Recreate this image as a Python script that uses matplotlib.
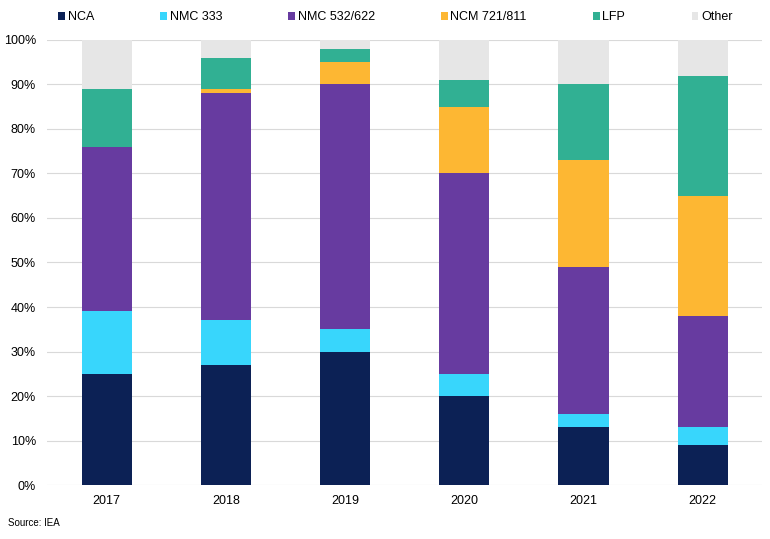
import matplotlib
matplotlib.use("Agg")
import matplotlib.pyplot as plt
import numpy as np
from matplotlib.ticker import PercentFormatter

plt.rcParams.update({
    "font.family": ["Liberation Sans", "DejaVu Sans"],
    "font.size": 9,
})

years = ["2017", "2018", "2019", "2020", "2021", "2022"]
nca = [25, 27, 30, 20, 13, 9]
nmc333 = [14, 10, 5, 5, 3, 4]
nmc532 = [37, 51, 55, 45, 33, 25]
ncm721 = [0, 1, 5, 15, 24, 27]
lfp = [13, 7, 3, 6, 17, 27]
other = [11, 4, 2, 9, 10, 8]

series = [
    ("NCA", nca, "#0c2155"),
    ("NMC 333", nmc333, "#38d6fc"),
    ("NMC 532/622", nmc532, "#673ba0"),
    ("NCM 721/811", ncm721, "#fdb733"),
    ("LFP", lfp, "#31b093"),
    ("Other", other, "#e6e6e6"),
]

fig = plt.figure(figsize=(7.7, 5.39), dpi=100)
ax = fig.add_axes([0.061, 0.100, 0.929, 0.826])

x = np.arange(len(years))
bottom = np.zeros(len(years))
for name, vals, color in series:
    vals = np.array(vals, dtype=float)
    ax.bar(x, vals, 0.42, bottom=bottom, color=color, label=name, zorder=3)
    bottom += vals

ax.set_xlim(-0.5, len(years) - 0.5)
ax.set_ylim(0, 100)
ax.set_yticks(np.arange(0, 101, 10))
ax.yaxis.set_major_formatter(PercentFormatter(decimals=0))
ax.set_xticks(x)
ax.set_xticklabels(years)
ax.grid(axis="y", color="#d9d9d9", linewidth=0.8, zorder=0)
for s in ax.spines.values():
    s.set_visible(False)
ax.tick_params(length=0, labelsize=9, colors="#000000")
ax.tick_params(axis="x", pad=7)
ax.tick_params(axis="y", pad=8)

fig.legend(loc="upper left", bbox_to_anchor=(0.061, 1.0), ncol=6, frameon=False,
           handlelength=0.55, handleheight=0.55, handletextpad=0.2,
           columnspacing=5.3, fontsize=9)

fig.text(0.01, 0.025, "Source: IEA", fontsize=7)

fig.savefig("out.png", dpi=100)
